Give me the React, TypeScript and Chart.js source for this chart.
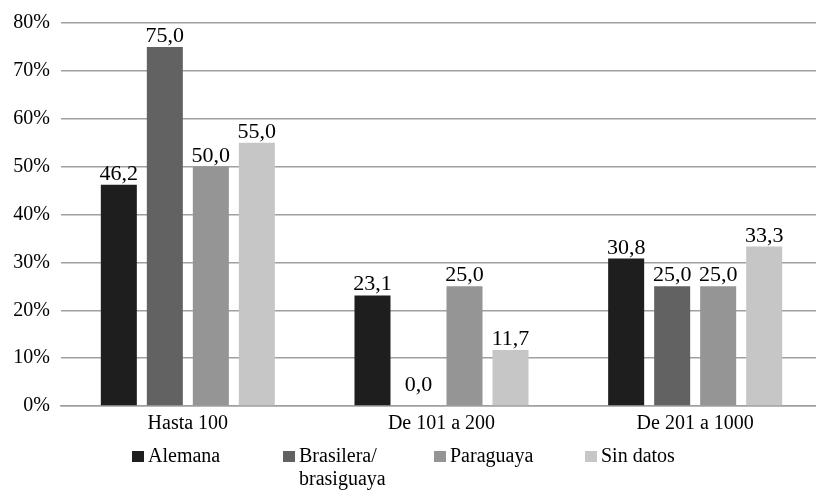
import React, { useEffect, useRef } from "react";
import { Chart, registerables } from "chart.js";

Chart.register(...registerables);

const categories = ["Hasta 100", "De 101 a 200", "De 201 a 1000"];
const seriesNames = ["Alemana", "Brasilera/brasiguaya", "Paraguaya", "Sin datos"];
const legendLines = [["Alemana"], ["Brasilera/", "brasiguaya"], ["Paraguaya"], ["Sin datos"]];
const alemana = [46.2, 23.1, 30.8];
const brasilera = [75.0, 0.0, 25.0];
const paraguaya = [50.0, 25.0, 25.0];
const sinDatos = [55.0, 11.7, 33.3];
const yTicks = [0, 10, 20, 30, 40, 50, 60, 70, 80];
const colors = ["#1e1e1e", "#626262", "#959595", "#c6c6c6"];

const FONT = '"Liberation Serif", "DejaVu Serif", serif';

const dataLabelPlugin = {
  id: "dataLabels",
  afterDatasetsDraw(chart: any) {
    const ctx = chart.ctx;
    ctx.save();
    ctx.font = `22px ${FONT}`;
    ctx.fillStyle = "#000";
    ctx.textAlign = "center";
    ctx.textBaseline = "alphabetic";
    chart.data.datasets.forEach((ds: any, i: number) => {
      const meta = chart.getDatasetMeta(i);
      meta.data.forEach((bar: any, j: number) => {
        const v = ds.data[j] as number;
        const txt = v.toFixed(1).replace(".", ",");
        const y = v === 0 ? bar.y - 15 : bar.y - 5;
        ctx.fillText(txt, bar.x, y);
      });
    });
    ctx.restore();
  },
};

const legendPlugin = {
  id: "customLegend",
  afterDraw(chart: any) {
    const ctx = chart.ctx;
    ctx.save();
    ctx.font = `20px ${FONT}`;
    ctx.textAlign = "left";
    ctx.textBaseline = "alphabetic";
    const startX = 132;
    const step = 151;
    const baseY = 462;
    chart.data.datasets.forEach((ds: any, i: number) => {
      const x = startX + i * step;
      ctx.fillStyle = ds.backgroundColor;
      ctx.fillRect(x, baseY - 11, 12, 11);
      ctx.fillStyle = "#000";
      legendLines[i].forEach((line, k) => {
        ctx.fillText(line, x + 16, baseY + k * 23);
      });
    });
    ctx.restore();
  },
};

export default function App() {
  const ref = useRef<HTMLCanvasElement | null>(null);
  useEffect(() => {
    if (!ref.current) return;
    const chart = new Chart(ref.current, {
      type: "bar",
      data: {
        labels: categories,
        datasets: [alemana, brasilera, paraguaya, sinDatos].map((d, i) => ({
          label: seriesNames[i],
          data: d,
          backgroundColor: colors[i],
          borderWidth: 0,
          categoryPercentage: 0.7254,
          barPercentage: 0.783,
        })),
      },
      options: {
        responsive: false,
        animation: false,
        layout: { padding: { top: 20, right: 0, left: 0, bottom: 0 } },
        plugins: {
          legend: { display: false },
          tooltip: { enabled: false },
        },
        scales: {
          x: {
            grid: { display: false, drawTicks: false },
            border: { display: true, color: "#a0a0a0", width: 1.5 },
            ticks: {
              font: { family: FONT, size: 20 },
              color: "#000",
              padding: 6,
            },
            afterFit(scale: any) {
              scale.height = 85;
            },
          },
          y: {
            min: 0,
            max: 80,
            afterBuildTicks(scale: any) {
              scale.ticks = yTicks.map((v) => ({ value: v }));
            },
            grid: { color: "#a0a0a0", lineWidth: 1.5, drawTicks: false },
            border: { display: false },
            ticks: {
              font: { family: FONT, size: 20 },
              color: "#000",
              padding: 11,
              callback: (v: any) => `${v}%`,
            },
            afterFit(scale: any) {
              scale.width = 61;
            },
          },
        },
      },
      plugins: [dataLabelPlugin, legendPlugin],
    });
    return () => chart.destroy();
  }, []);
  return (
    <div
      style={{
        position: "fixed",
        left: 0,
        top: 0,
        width: 816,
        height: 491,
        overflow: "hidden",
        background: "#fff",
      }}
    >
      <canvas ref={ref} width={822} height={491} />
    </div>
  );
}
